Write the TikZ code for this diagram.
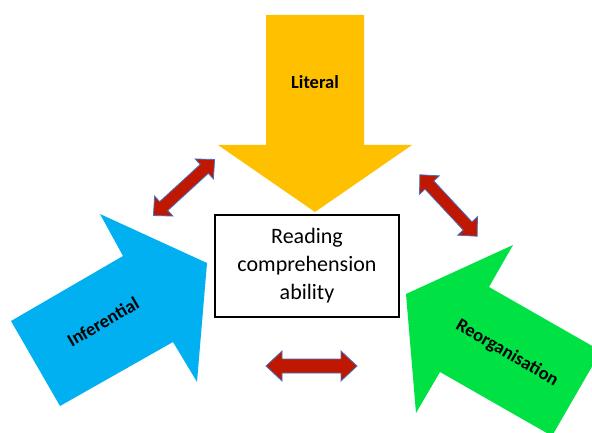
\documentclass[tikz,border=0pt]{standalone}
\usepackage{fontspec}
\setmainfont{Carlito}
\definecolor{litgold}{RGB}{255,192,0}
\definecolor{infblue}{RGB}{0,176,240}
\definecolor{reogreen}{RGB}{0,226,68}
\definecolor{linkred}{RGB}{192,24,0}
\definecolor{linkedge}{RGB}{68,114,196}
\tikzset{pics/twoway/.style n args={4}{code={
  \filldraw[draw=linkedge,fill=linkred,line width=0.8pt,line join=miter]
    (-#1,0) -- ({-#1+#4},#3) -- ({-#1+#4},#2) -- ({#1-#4},#2) -- ({#1-#4},#3) -- (#1,0)
    -- ({#1-#4},-#3) -- ({#1-#4},-#2) -- ({-#1+#4},-#2) -- ({-#1+#4},-#3) -- cycle;}}}

\begin{document}
\begin{tikzpicture}[x=1pt,y=1pt,every node/.style={font=\bfseries\fontsize{18.5}{21}\selectfont}]
\useasboundingbox (0,0) rectangle (592,432);
\clip (0,0) rectangle (592,432);
\fill[litgold]  (266,417) -- (364,417) -- (364,287) -- (412,287) -- (315,220) -- (218,287) -- (266,287) -- cycle;
\fill[infblue]  (11,111) -- (60,26) -- (173,90) -- (197,50) -- (207,169) -- (100,218) -- (123,176) -- cycle;
\fill[reogreen] (601,81) -- (552,-4) -- (440,60) -- (416,19) -- (406,138) -- (513,187) -- (489,145) -- cycle;
\node             (literal) at (315,350) {Literal};
\node[rotate=30]  (infer)   at (103,110) {Inferential};
\node[rotate=-30] (reorg)   at (507,79)  {Reorganisation};
\node[draw,line width=1.2pt,minimum width=184pt,minimum height=102pt,align=center,
      font=\fontsize{22}{28}\selectfont] (rca) at (307,166) {Reading\\comprehension\\ability};
\pic[rotate=42.5] (litinf) at (184,244.5) {twoway={41.5}{6}{13.5}{14}};
\pic[rotate=-47]  (litreo) at (448.5,226.5) {twoway={42}{6}{13.5}{14}};
\pic              (infreo) at (311.5,66)  {twoway={45.5}{7}{15}{16}};
\end{tikzpicture}
\end{document}
